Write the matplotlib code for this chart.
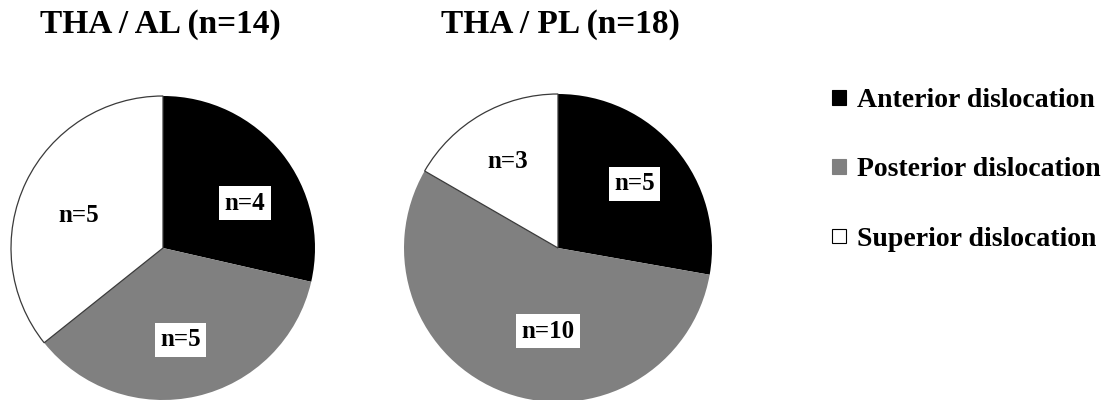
import matplotlib
matplotlib.use("Agg")
import matplotlib.pyplot as plt
from matplotlib.patches import Patch

categories = ["Anterior dislocation", "Posterior dislocation", "Superior dislocation"]
al_counts = [4, 5, 5]
pl_counts = [5, 10, 3]
titles = ["THA / AL (n=14)", "THA / PL (n=18)"]

colors = ["#000000", "#808080", "#ffffff"]

# small manual nudges of the count labels (pie units), like the original layout
al_nudge = [(0.03, -0.11), (-0.03, 0.03), (0.03, -0.07)]
pl_nudge = [(0.0, 0.0), (0.16, 0.07), (0.0, 0.0)]

plt.rcParams["font.family"] = ["Liberation Serif", "DejaVu Serif"]
plt.rcParams["font.weight"] = "bold"

W, H = 1109, 400
fig = plt.figure(figsize=(W / 100, H / 100), dpi=100)


def draw_pie(cx, cy, r, counts, nudge, title, title_x):
    # cx, cy in pixels from the top-left corner
    ax = fig.add_axes([(cx - r) / W, (H - cy - r) / H, 2 * r / W, 2 * r / H])
    total = sum(counts)
    wedges, _, autotexts = ax.pie(
        counts,
        colors=colors,
        startangle=90,
        counterclock=False,
        radius=1.0,
        autopct=lambda p: f"n={round(p * total / 100)}",
        pctdistance=0.65,
        textprops={"fontsize": 18, "fontweight": "bold"},
    )
    for w, c in zip(wedges, colors):
        w.set_clip_on(False)
        if c == "#ffffff":
            w.set_edgecolor("#3a3a3a")
            w.set_linewidth(0.9)
        else:
            w.set_edgecolor("none")
    for t, (dx, dy) in zip(autotexts, nudge):
        x, y = t.get_position()
        t.set_position((x + dx, y + dy))
        t.set_bbox(dict(boxstyle="square,pad=0.22", facecolor="white", edgecolor="none"))
    ax.set_xlim(-1, 1)
    ax.set_ylim(-1, 1)
    ax.set_aspect("equal")
    ax.axis("off")
    fig.text(title_x / W, 1 - 24 / H, title, ha="center", va="center",
             fontsize=24, fontweight="bold")


draw_pie(163, 248, 152, al_counts, al_nudge, titles[0], 160)
draw_pie(558, 248, 154, pl_counts, pl_nudge, titles[1], 560)

handles = [
    Patch(facecolor=c, edgecolor="black" if c == "#ffffff" else c, linewidth=0.8)
    for c in colors
]
fig.legend(
    handles,
    categories,
    loc="upper left",
    bbox_to_anchor=(832 / W, 1 - 88 / H),
    frameon=False,
    fontsize=20,
    handlelength=0.5,
    handleheight=0.45,
    handletextpad=0.4,
    labelspacing=1.6,
    borderpad=0,
    borderaxespad=0,
)

fig.savefig("out.png", dpi=100)
